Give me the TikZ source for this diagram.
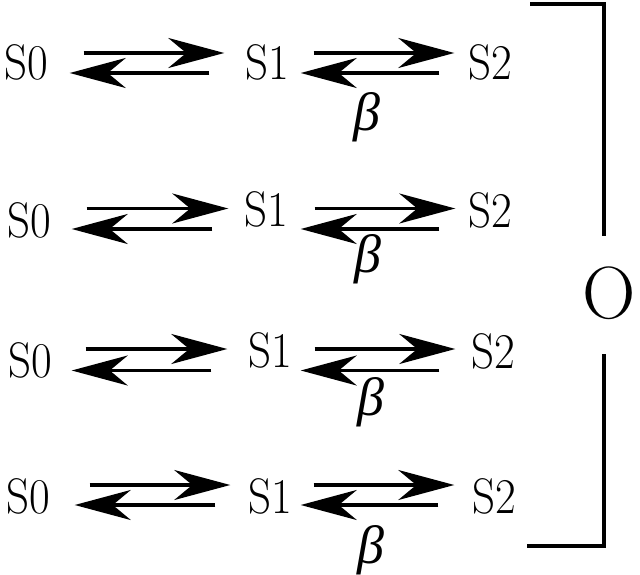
\documentclass[tikz,border=0pt]{standalone}
\usepackage{fontspec}
\usepackage{graphicx}
\newfontfamily\grkfont{Liberation Serif}
\newcommand\nrwtxt[1]{\scalebox{0.9}[1]{#1}}
\usetikzlibrary{arrows.meta}
\begin{document}
\begin{tikzpicture}[x=1pt,y=-1pt,
  st/.style={inner sep=0pt, anchor=base, font=\fontsize{50}{54}\selectfont},
  bt/.style={inner sep=0pt, font=\fontsize{54}{60}\selectfont\grkfont\itshape},
  ot/.style={inner sep=0pt, font=\fontsize{74}{80}\selectfont},
  ar/.style 2 args={line width=3.5pt, -{Stealth[length=56pt,width=30pt,inset=18pt]}, shorten <=#1pt, shorten >=#2pt},
  br/.style={line width=3.5pt}]
\useasboundingbox (0,0) rectangle (640,575);

% row 1
\node[st] (S0r1) at (26,80) {\nrwtxt{S0}};
\node[st] (S1r1) at (267.5,80) {\nrwtxt{S1}};
\node[st] (S2r1) at (490.5,80) {\nrwtxt{S2}};
\node[bt] (Br1) at (366.5,117) {β};
\coordinate (up1) at (0,53); \coordinate (lo1) at (0,73);
\draw[ar={35.7}{21.2}] (S0r1.east |- up1) -- (S1r1.west |- up1);
\draw[ar={36.2}{21.7}] (S1r1.west |- lo1) -- (S0r1.east |- lo1);
\draw[ar={24.2}{14.2}] (S1r1.east |- up1) -- (S2r1.west |- up1);
\draw[ar={29.2}{11.2}] (S2r1.west |- lo1) -- (S1r1.east |- lo1);

% row 2
\node[st] (S0r2) at (29,237) {\nrwtxt{S0}};
\node[st] (S1r2) at (266,226) {\nrwtxt{S1}};
\node[st] (S2r2) at (490,227) {\nrwtxt{S2}};
\node[bt] (Br2) at (367.5,259.5) {β};
\coordinate (up2) at (0,208.5); \coordinate (lo2) at (0,229);
\draw[ar={35.7}{15.7}] (S0r2.east |- up2) -- (S1r2.west |- up2);
\draw[ar={31.7}{20.7}] (S1r2.west |- lo2) -- (S0r2.east |- lo2);
\draw[ar={26.7}{12.7}] (S1r2.east |- up2) -- (S2r2.west |- up2);
\draw[ar={28.7}{12.7}] (S2r2.west |- lo2) -- (S1r2.east |- lo2);

% row 3
\node[st] (S0r3) at (30,377) {\nrwtxt{S0}};
\node[st] (S1r3) at (270.5,367) {\nrwtxt{S1}};
\node[st] (S2r3) at (493.5,368) {\nrwtxt{S2}};
\node[bt] (Br3) at (370.5,402.5) {β};
\coordinate (up3) at (0,349); \coordinate (lo3) at (0,370.5);
\draw[ar={33.7}{21.2}] (S0r3.east |- up3) -- (S1r3.west |- up3);
\draw[ar={37.2}{19.7}] (S1r3.west |- lo3) -- (S0r3.east |- lo3);
\draw[ar={22.2}{16.2}] (S1r3.east |- up3) -- (S2r3.west |- up3);
\draw[ar={32.2}{8.2}] (S2r3.west |- lo3) -- (S1r3.east |- lo3);

% row 4
\node[st] (S0r4) at (28.5,513) {\nrwtxt{S0}};
\node[st] (S1r4) at (270,513) {\nrwtxt{S1}};
\node[st] (S2r4) at (494.5,513) {\nrwtxt{S2}};
\node[bt] (Br4) at (371,550) {β};
\coordinate (up4) at (0,485); \coordinate (lo4) at (0,505);
\draw[ar={39.2}{17.7}] (S0r4.east |- up4) -- (S1r4.west |- up4);
\draw[ar={32.7}{24.2}] (S1r4.west |- lo4) -- (S0r4.east |- lo4);
\draw[ar={21.7}{18.2}] (S1r4.east |- up4) -- (S2r4.west |- up4);
\draw[ar={34.2}{8.7}] (S2r4.west |- lo4) -- (S1r4.east |- lo4);

% bracket and O
\node[ot] (O) at (609.5,293) {O};
\draw[br] (530,4) -- (604,4) -- (604,236);
\draw[br] (604,354) -- (604,546) -- (527,546);
\end{tikzpicture}
\end{document}
